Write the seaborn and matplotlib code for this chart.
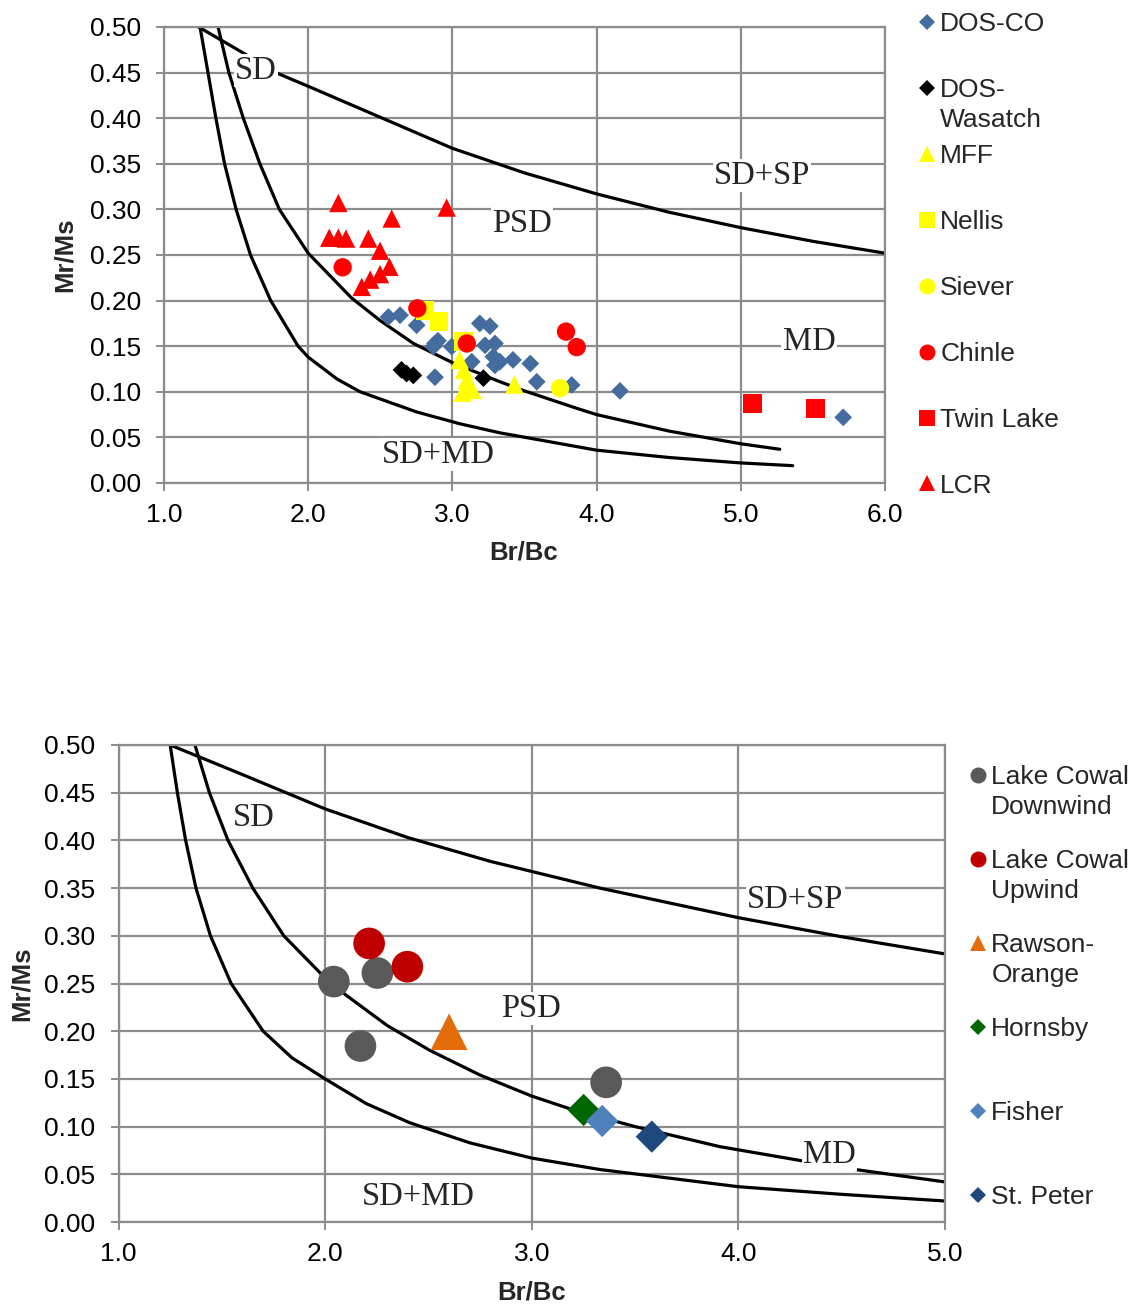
import matplotlib
matplotlib.use("Agg")
import matplotlib.pyplot as plt
import seaborn as sns
import numpy as np
from matplotlib.lines import Line2D

# ---------------- upper chart data ----------------
dosco_x = [2.556, 2.637, 2.752, 2.879, 2.868, 2.90, 2.995, 3.19, 3.26, 3.134, 3.226,
           3.295, 3.284, 3.33, 3.295, 3.42, 3.54, 3.585, 3.827, 2.879, 4.162, 5.71]
dosco_y = [0.182, 0.184, 0.173, 0.153, 0.1495, 0.156, 0.1495, 0.175, 0.172, 0.133, 0.151,
           0.153, 0.1385, 0.133, 0.129, 0.135, 0.131, 0.111, 0.1075, 0.116, 0.101, 0.072]
wasatch_x = [2.647, 2.682, 2.729, 3.215]
wasatch_y = [0.124, 0.120, 0.118, 0.115]
mff_x = [3.05, 3.08, 3.10, 3.12, 3.07, 3.14, 3.43]
mff_y = [0.135, 0.124, 0.113, 0.105, 0.099, 0.102, 0.108]
nellis_x = [2.81, 2.909, 3.076]
nellis_y = [0.189, 0.177, 0.155]
siever_x = [3.746]
siever_y = [0.104]
chinle_x = [2.239, 2.757, 3.10, 3.788, 3.862]
chinle_y = [0.2365, 0.1915, 0.153, 0.166, 0.149]
twin_x = [5.08, 5.52]
twin_y = [0.087, 0.082]
lcr_x = [2.209, 2.960, 2.579, 2.146, 2.209, 2.262, 2.417, 2.498, 2.563, 2.498, 2.43, 2.371]
lcr_y = [0.307, 0.302, 0.290, 0.269, 0.269, 0.268, 0.268, 0.2547, 0.237, 0.229, 0.223, 0.215]

# reference curves (upper chart)
t_sdsp_x = [1.24, 1.49, 1.79, 2.0, 2.5, 3.0, 3.5, 4.0, 4.5, 5.0, 5.5, 6.0]
t_sdsp_y = [0.500, 0.477, 0.449, 0.435, 0.401, 0.367, 0.340, 0.317, 0.297, 0.280, 0.265, 0.252]
t_mix1_x = [1.375, 1.45, 1.55, 1.665, 1.80, 2.0, 2.3, 2.5, 2.73, 3.0, 3.33, 3.5, 3.86, 4.0, 4.5, 5.0, 5.27]
t_mix1_y = [0.50, 0.45, 0.40, 0.35, 0.30, 0.252, 0.203, 0.178, 0.153, 0.132, 0.111, 0.101, 0.082, 0.075, 0.057, 0.043, 0.037]
t_mix2_x = [1.25, 1.305, 1.36, 1.42, 1.50, 1.60, 1.74, 1.93, 2.0, 2.2, 2.36, 2.75, 3.05, 3.33, 4.0, 4.5, 5.0, 5.36]
t_mix2_y = [0.50, 0.45, 0.40, 0.35, 0.30, 0.25, 0.20, 0.15, 0.138, 0.114, 0.100, 0.078, 0.065, 0.055, 0.036, 0.028, 0.022, 0.019]

# ---------------- lower chart data ----------------
lcd_x = [2.042, 2.253, 2.171, 3.36]
lcd_y = [0.252, 0.261, 0.1845, 0.1464]
lcu_x = [2.213, 2.398]
lcu_y = [0.292, 0.2676]
rawson_x = [2.60]
rawson_y = [0.1995]
hornsby_x = [3.251]
hornsby_y = [0.1174]
fisher_x = [3.341]
fisher_y = [0.1059]
stpeter_x = [3.581]
stpeter_y = [0.0895]

b_sdsp_x = [1.25, 1.6, 2.0, 2.4, 2.8, 3.33, 4.0, 4.5, 5.0]
b_sdsp_y = [0.500, 0.469, 0.433, 0.403, 0.378, 0.350, 0.319, 0.299, 0.281]
b_mix1_x = [1.37, 1.44, 1.53, 1.65, 1.80, 1.99, 2.1, 2.3, 2.506, 2.75, 3.0, 3.18, 3.5, 3.91, 4.5, 5.0]
b_mix1_y = [0.50, 0.45, 0.40, 0.35, 0.30, 0.258, 0.238, 0.206, 0.180, 0.154, 0.132, 0.119, 0.100, 0.079, 0.057, 0.042]
b_mix2_x = [1.25, 1.285, 1.325, 1.375, 1.445, 1.545, 1.70, 1.84, 2.0, 2.2, 2.41, 2.7, 3.0, 3.33, 4.0, 4.5, 5.0]
b_mix2_y = [0.50, 0.45, 0.40, 0.35, 0.30, 0.25, 0.20, 0.172, 0.150, 0.124, 0.104, 0.083, 0.067, 0.055, 0.037, 0.029, 0.022]

top_labels = ["DOS-CO", "DOS-\nWasatch", "MFF", "Nellis", "Siever", "Chinle", "Twin Lake", "LCR"]
bot_labels = ["Lake Cowal\nDownwind", "Lake Cowal\nUpwind", "Rawson-\nOrange", "Hornsby", "Fisher", "St. Peter"]

region_top = [("SD", 1.638, 0.452), ("PSD", 3.483, 0.284), ("SD+SP", 5.147, 0.337),
              ("MD", 5.473, 0.155), ("SD+MD", 2.90, 0.031)]
region_bot = [("SD", 1.655, 0.424), ("SD+SP", 4.276, 0.338), ("PSD", 2.995, 0.2235),
              ("MD", 4.44, 0.0705), ("SD+MD", 2.453, 0.0266)]

# ---------------- style ----------------
sns.set_theme(style="white")
plt.rcParams['font.family'] = ['Liberation Sans', 'DejaVu Sans']
GRID = "#8c8c8c"
FS = 19

fig = plt.figure(figsize=(11.35, 13.07), dpi=100)
W, H = 1135, 1307
ax1 = fig.add_axes([164 / W, 1 - 483 / H, 721 / W, 456 / H])
ax2 = fig.add_axes([118.5 / W, 1 - 1222 / H, 826.5 / W, 477 / H])


def style_axes(ax, xmax):
    ax.set_xlim(1, xmax)
    ax.set_ylim(0, 0.5)
    ax.set_xticks(np.arange(1, xmax + 0.01, 1.0))
    ax.set_yticks(np.arange(0, 0.5001, 0.05))
    ax.xaxis.set_major_formatter('{x:.1f}')
    ax.yaxis.set_major_formatter('{x:.2f}')
    ax.set_axisbelow(True)
    ax.grid(True, color=GRID, lw=1.6)
    for s in ax.spines.values():
        s.set_visible(True)
        s.set_color(GRID)
        s.set_linewidth(1.6)
    ax.tick_params(axis='both', direction='out', length=5.5, width=1.4, color=GRID,
                   labelsize=FS, labelcolor='black', bottom=True, left=True)
    ax.tick_params(axis='x', pad=9)
    ax.tick_params(axis='y', pad=11)


style_axes(ax1, 6)
style_axes(ax2, 5)


def curve(ax, x, y):
    sns.lineplot(x=x, y=y, ax=ax, sort=False, estimator=None, color='black', lw=2.3, zorder=2)


def pts(ax, x, y, marker, size, color, z):
    sns.scatterplot(x=x, y=y, ax=ax, marker=marker, s=size, color=color, linewidth=0,
                    edgecolor='none', legend=False, zorder=z)


# upper chart
for cx, cy in [(t_sdsp_x, t_sdsp_y), (t_mix1_x, t_mix1_y), (t_mix2_x, t_mix2_y)]:
    curve(ax1, cx, cy)

BLUE = "#446c9e"
top_series = [
    (dosco_x, dosco_y, 'D', 82, BLUE, 7.8),
    (wasatch_x, wasatch_y, 'D', 82, 'black', 7.8),
    (mff_x, mff_y, '^', 175, '#ffff00', 11),
    (nellis_x, nellis_y, 's', 175, '#ffff00', 11.5),
    (siever_x, siever_y, 'o', 175, '#ffff00', 11.5),
    (chinle_x, chinle_y, 'o', 175, '#ff0000', 11.5),
    (twin_x, twin_y, 's', 185, '#ff0000', 11.5),
    (lcr_x, lcr_y, '^', 175, '#ff0000', 11),
]
for i, (x, y, m, s, c, _) in enumerate(top_series):
    pts(ax1, x, y, m, s, c, 5 + i * 0.1)

for txt, x, y in region_top:
    ax1.text(x, y, txt, family=['Liberation Serif', 'DejaVu Serif'], fontsize=23.5,
             ha='center', va='center', zorder=3,
             bbox=dict(facecolor='white', edgecolor='none', pad=1.0))

# lower chart
for cx, cy in [(b_sdsp_x, b_sdsp_y), (b_mix1_x, b_mix1_y), (b_mix2_x, b_mix2_y)]:
    curve(ax2, cx, cy)

bot_series = [
    (lcd_x, lcd_y, 'o', 520, '#595959', 11.5),
    (lcu_x, lcu_y, 'o', 520, '#c00000', 11.5),
    (rawson_x, rawson_y, '^', 700, '#e46c0a', 11.5),
    (hornsby_x, hornsby_y, 'D', 270, '#006600', 8.2),
    (fisher_x, fisher_y, 'D', 270, '#4f81bd', 8.2),
    (stpeter_x, stpeter_y, 'D', 270, '#1f497d', 8.2),
]
for i, (x, y, m, s, c, _) in enumerate(bot_series):
    pts(ax2, x, y, m, s, c, 5 + i * 0.1)

for txt, x, y in region_bot:
    ax2.text(x, y, txt, family=['Liberation Serif', 'DejaVu Serif'], fontsize=23.5,
             ha='center', va='center', zorder=3,
             bbox=dict(facecolor='white', edgecolor='none', pad=1.0))

# axis titles
for ax, xl, yl_x in [(ax1, (0.4993, -0.1535), -0.1373), (ax2, (0.5003, -0.1468), -0.1168)]:
    ax.set_xlabel("Br/Bc", fontsize=18.5, fontweight='bold', va='center')
    ax.xaxis.set_label_coords(*xl)
    ax.set_ylabel("Mr/Ms", fontsize=18.5, fontweight='bold', va='center')
    ax.yaxis.set_label_coords(yl_x, 0.5)


def make_legend(ax, series, labels, anchor, spacing):
    handles = [Line2D([], [], marker=m, linestyle='none', color=c, markeredgewidth=0, markersize=ms)
               for (_, _, m, _, c, ms) in series]
    first = [lab.split("\n")[0] for lab in labels]
    leg = ax.legend(handles, first, loc='upper left', bbox_to_anchor=anchor,
                    bbox_transform=fig.transFigure, frameon=False, fontsize=FS,
                    handlelength=0.5, handletextpad=0.25, labelspacing=spacing,
                    borderpad=0, borderaxespad=0)
    leg.set_zorder(10)
    for t, lab in zip(leg.get_texts(), labels):
        parts = lab.split("\n")
        if len(parts) > 1:
            ax.annotate(parts[1], xy=(0, 0.5), xycoords=t, xytext=(0, -30 * 72 / 100),
                        textcoords='offset points', ha='left', va='center', fontsize=FS,
                        zorder=11, annotation_clip=False)
    return leg


make_legend(ax1, top_series, top_labels, (920.5 / W, 1 - 12 / H), 1.59)
make_legend(ax2, bot_series, bot_labels, (971.5 / W, 1 - 765 / H), 2.275)

fig.canvas.draw()
fig.savefig("out.png", dpi=100)
